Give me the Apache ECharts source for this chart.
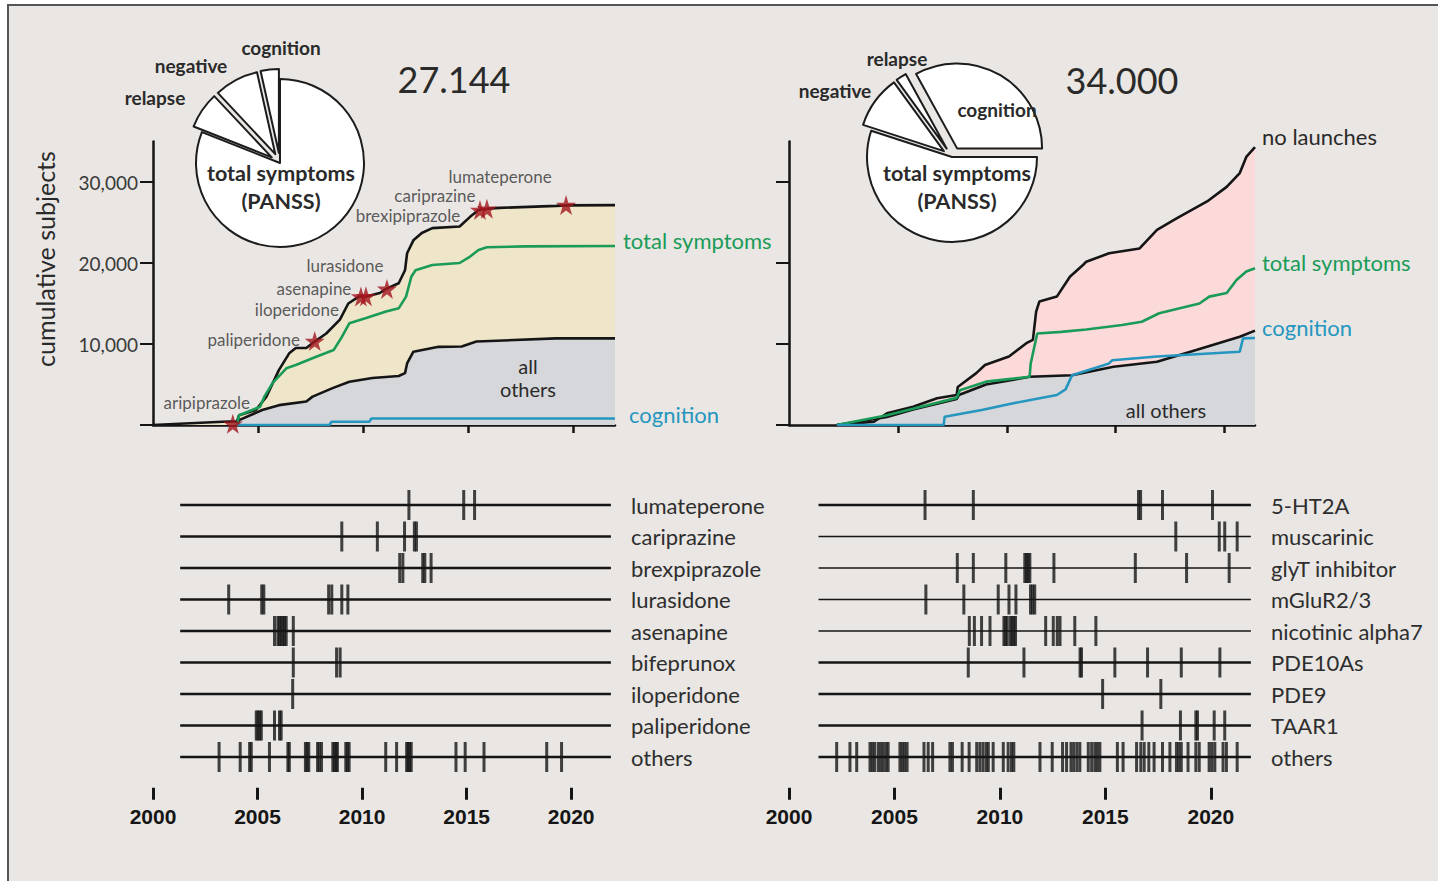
<!DOCTYPE html>
<html>
<head>
<meta charset="utf-8">
<script src="https://cdn.jsdelivr.net/npm/echarts@6/dist/echarts.min.js"></script>
<style>
  html, body { margin: 0; padding: 0; background: #fff; }
  #chart { width: 1438px; height: 881px; }
</style>
</head>
<body>
<div id="chart"></div>
<script>
// ---- data ----
// top left: approved drugs, cumulative subjects
let leftUpper = [[2000,0],[2003.3,400],[2004.0,450],[2004.1,1200],[2004.9,1850],[2005.4,3500],[2006.0,6800],[2006.5,8900],[2006.8,9500],[2007.3,9500],[2007.7,10300],[2008.25,11300],[2008.9,13000],[2009.3,15000],[2009.8,15850],[2010.2,15900],[2010.8,16300],[2011.1,16800],[2011.7,17500],[2012.0,19100],[2012.1,21200],[2012.4,22800],[2012.8,23700],[2013.3,24300],[2014.6,24500],[2015.1,25700],[2015.5,26550],[2015.9,26700],[2016.5,26800],[2019.2,27050],[2019.7,27120],[2022,27144]];
let leftTotal = [[2004.0,0],[2004.1,1200],[2005.1,2250],[2005.3,3500],[2005.7,5200],[2006.35,7000],[2006.8,7400],[2007.8,8450],[2008.6,9250],[2009.0,10900],[2009.35,12550],[2010.15,13200],[2011.1,14000],[2011.7,14400],[2012.05,15850],[2012.3,18300],[2012.5,19100],[2013.3,19750],[2014.6,20000],[2015.1,20800],[2015.5,21600],[2015.9,21950],[2017.75,22050],[2022,22100]];
let leftOthers = [[2004.0,0],[2004.1,600],[2005.2,1850],[2006.0,2450],[2007.3,2900],[2007.6,3500],[2008.55,4550],[2009.35,5350],[2010.45,5800],[2011.7,6050],[2012.0,6400],[2012.1,7600],[2012.4,9050],[2013.6,9650],[2014.7,9700],[2015.4,10300],[2019.2,10700],[2022,10700]];
let leftCognition = [[2004.0,0],[2008.4,0],[2008.5,400],[2010.3,400],[2010.4,800],[2022,800]];
// launches: name, year, cumulative subjects
let launches = [
  ['aripiprazole', 2003.8, 150],
  ['paliperidone', 2007.7, 10370],
  ['iloperidone', 2009.9, 15850],
  ['asenapine', 2010.14, 15900],
  ['lurasidone', 2011.14, 16800],
  ['brexipiprazole', 2015.57, 26550],
  ['cariprazine', 2015.9, 26700],
  ['lumateperone', 2019.67, 27150]
];

// top right: no launches
let rightUpper = [[2002.2,0],[2003.9,400],[2004.5,1450],[2005.7,2250],[2006.8,3300],[2007.7,3700],[2007.75,4700],[2008.6,6400],[2009.0,7400],[2010.1,8450],[2010.9,10100],[2011.2,10500],[2011.35,14000],[2011.5,15250],[2012.3,15850],[2012.9,18300],[2013.5,19750],[2013.65,20150],[2014.7,21200],[2016.1,21800],[2016.9,24100],[2017.8,25500],[2019.2,27600],[2020.1,29400],[2020.7,31100],[2021.0,33100],[2021.4,34300]];
let rightTotal = [[2002.2,0],[2004.5,1200],[2005.7,2000],[2007.7,3350],[2007.85,4300],[2009.05,5350],[2011.05,5950],[2011.1,7600],[2011.4,11300],[2012.5,11500],[2013.65,11800],[2015.3,12350],[2016.2,12750],[2017.0,13800],[2018.85,15000],[2019.3,15850],[2020.1,16300],[2020.55,17900],[2021.0,18950],[2021.4,19350]];
let rightOthers = [[2002.2,0],[2004.5,1000],[2005.7,1900],[2007.7,3200],[2007.8,3700],[2009.05,5000],[2011.05,5950],[2013.0,6150],[2014.9,7200],[2016.9,7800],[2018.7,9250],[2020.7,10900],[2021.4,11650]];
let rightCognition = [[2002.2,0],[2007.1,0],[2007.15,1030],[2008.85,1850],[2010.3,2680],[2012.3,3700],[2012.7,4400],[2013.0,6150],[2014.7,7600],[2014.85,8000],[2016.9,8450],[2020.7,9050],[2020.85,10700],[2021.4,10750]];

// pies (share of subjects by endpoint)
let leftPie = [['total symptoms', 81], ['relapse', 7], ['negative', 8.5], ['cognition', 3.5]];
let rightPie = [['total symptoms', 55], ['negative', 10], ['relapse', 2], ['cognition', 33]];

// bottom: trial start dates per row
let leftRows = ['lumateperone','cariprazine','brexpiprazole','lurasidone','asenapine','bifeprunox','iloperidone','paliperidone','others'];
let leftEvents = [
  [2012.24, 2014.86, 2015.38],
  [2009.03, 2010.73, 2012.03, 2012.5, 2012.6],
  [2011.8, 2011.95, 2012.9, 2013.0, 2013.3],
  [2003.62, 2005.2, 2005.3, 2008.4, 2008.55, 2009.03, 2009.32],
  [2005.81, 2005.97, 2006.05, 2006.13, 2006.21, 2006.29, 2006.37, 2006.71],
  [2006.71, 2008.78, 2008.95],
  [2006.68],
  [2004.94, 2005.02, 2005.1, 2005.18, 2005.81, 2006.05, 2006.13],
  [2003.16, 2004.17, 2004.62, 2004.7, 2005.57, 2006.45, 2006.52, 2007.29, 2007.37, 2007.45, 2007.87, 2007.95, 2008.06, 2008.6, 2008.68, 2008.76, 2008.82, 2009.22, 2009.3, 2009.38, 2011.13, 2011.65, 2012.13, 2012.2, 2012.27, 2012.35, 2014.49, 2014.93, 2015.83, 2018.83, 2019.54]
];
let rightRows = ['5-HT2A','muscarinic','glyT inhibitor','mGluR2/3','nicotinic alpha7','PDE10As','PDE9','TAAR1','others'];
let rightEvents = [
  [2006.45, 2008.74, 2016.57, 2016.67, 2017.71, 2020.08],
  [2018.34, 2020.4, 2020.66, 2021.25],
  [2007.98, 2008.74, 2010.28, 2011.18, 2011.26, 2011.34, 2011.42, 2012.56, 2016.42, 2018.85, 2020.87],
  [2006.49, 2008.29, 2009.92, 2010.43, 2010.76, 2011.45, 2011.55, 2011.65],
  [2008.55, 2008.79, 2009.13, 2009.53, 2010.19, 2010.27, 2010.35, 2010.5, 2010.58, 2010.66, 2010.74, 2012.17, 2012.53, 2012.72, 2012.85, 2013.55, 2014.55],
  [2008.5, 2011.14, 2013.8, 2013.87, 2015.45, 2017.0, 2018.6, 2020.43],
  [2014.87, 2017.63],
  [2016.74, 2018.56, 2019.29, 2019.37, 2020.16, 2020.66],
  [2002.26, 2002.89, 2003.21, 2003.84, 2003.95, 2004.06, 2004.23, 2004.35, 2004.47, 2004.6, 2004.7, 2005.26, 2005.37, 2005.48, 2005.6, 2006.4, 2006.6, 2006.81, 2007.63, 2007.75, 2008.21, 2008.54, 2008.9, 2009.05, 2009.2, 2009.35, 2009.45, 2009.68, 2010.16, 2010.39, 2010.55, 2010.66, 2011.9, 2012.48, 2012.97, 2013.16, 2013.37, 2013.5, 2013.65, 2013.79, 2014.19, 2014.35, 2014.5, 2014.62, 2014.74, 2015.57, 2015.84, 2016.48, 2016.68, 2016.84, 2017.06, 2017.31, 2017.71, 2018.06, 2018.37, 2018.48, 2018.6, 2018.92, 2019.29, 2019.45, 2019.92, 2020.05, 2020.19, 2020.58, 2020.74, 2021.25]
];
let rowStart = [2001.3, 2001.4];
let rowEnd = 2021.9;
let yearTicks = [2000, 2005, 2010, 2015, 2020];
let subjectTicks = [0, 10000, 20000, 30000];

// ---- style ----
const FONT = 'Lato, "Open Sans", sans-serif';
const INK = '#151515';
const GREEN = '#1a9b58';
const BLUE = '#2596bf';
const STAR = 'path://M50,0 L61,35 L98,35 L68,57 L79,91 L50,70 L21,91 L32,57 L2,35 L39,35 Z';
// label offsets for the launch stars (pixels)
const starLabelOffset = {
  aripiprazole: [-26, -21], paliperidone: [-61, -2], iloperidone: [-64, 13], asenapine: [-52, -8],
  lurasidone: [-42, -23], brexipiprazole: [-72, 6], cariprazine: [-52, -13], lumateperone: [-66, -29]
};
const thinRows = ['muscarinic', 'glyT inhibitor', 'mGluR2/3', 'nicotinic alpha7'];

let chart = echarts.init(document.getElementById('chart'), null, { renderer: 'svg' });

function topX(grid, max) {
  return {
    type: 'value', gridIndex: grid, min: 2000, max: max,
    axisLine: { lineStyle: { color: INK, width: 2.5 } },
    axisTick: { show: true, length: 8, customValues: [2005, 2010, 2015, 2020], lineStyle: { color: INK, width: 2.5 } },
    axisLabel: { show: false },
    splitLine: { show: false }
  };
}
function topY(grid, labels) {
  return {
    type: 'value', gridIndex: grid, min: 0, max: 35000,
    axisLine: { show: true, lineStyle: { color: INK, width: 2.5 } },
    axisTick: { show: true, length: 13, customValues: subjectTicks, lineStyle: { color: INK, width: 2 } },
    axisLabel: {
      show: labels, margin: 15, customValues: subjectTicks.slice(1),
      formatter: v => v.toLocaleString('en-US'),
      fontFamily: FONT, fontSize: 19, color: '#3a3a3a'
    },
    splitLine: { show: false }
  };
}
function bottomX(grid) {
  return {
    type: 'value', gridIndex: grid, min: 2000, max: 2022, offset: 15,
    axisLine: { lineStyle: { color: INK, width: 3 } },
    axisTick: { show: true, length: 12, customValues: yearTicks, lineStyle: { color: INK, width: 3 } },
    axisLabel: {
      customValues: yearTicks, margin: 18, formatter: v => String(v),
      fontFamily: '"Liberation Sans Narrow", "Liberation Sans", Arial, sans-serif',
      fontWeight: 'bold', fontSize: 21, color: INK
    },
    splitLine: { show: false }
  };
}
function bottomY(grid, rows) {
  return {
    type: 'category', gridIndex: grid, data: rows, inverse: true, position: 'right',
    axisLine: { show: false }, axisTick: { show: false },
    axisLabel: { margin: 18, fontFamily: FONT, fontSize: 22, color: '#2e2e2e', align: 'left' }
  };
}

function areaSeries(ax, data, color) {
  return {
    type: 'line', xAxisIndex: ax, yAxisIndex: ax, data: data, symbol: 'none', z: 1,
    lineStyle: { width: 0 }, areaStyle: { color: color, opacity: 1 }, silent: true
  };
}
function lineSeries(ax, name, data, color, label, offset, dist) {
  return {
    type: 'line', name: name, xAxisIndex: ax, yAxisIndex: ax, data: data, symbol: 'none', z: 3,
    lineStyle: { color: color, width: 2.6 },
    endLabel: label ? {
      show: true, formatter: name, color: color === INK ? '#2a2a2a' : color,
      fontFamily: FONT, fontSize: 22, offset: offset, distance: dist
    } : { show: false }
  };
}
function eventSeries(ax, rows, events, start) {
  let out = [];
  rows.forEach(r => {
    out.push({
      type: 'line', xAxisIndex: ax, yAxisIndex: ax, symbol: 'none', silent: true,
      data: [[start, r], [rowEnd, r]],
      lineStyle: { color: INK, width: thinRows.indexOf(r) >= 0 ? 1.3 : 2.6 }
    });
  });
  let pts = [];
  events.forEach((ev, i) => ev.forEach(y => pts.push([y, rows[i]])));
  out.push({
    type: 'scatter', xAxisIndex: ax, yAxisIndex: ax, data: pts, symbol: 'rect',
    symbolSize: [3, 30], itemStyle: { color: INK }, z: 4, silent: true
  });
  return out;
}
function pieSeries(data, center, radius, startAngle) {
  const st = { color: '#fff', borderColor: '#1c1c1c', borderWidth: 2 };
  return {
    type: 'pie', center: center, radius: radius, startAngle: startAngle, clockwise: true,
    selectedMode: 'multiple', selectedOffset: 10, z: 10, silent: true, animation: false,
    label: { show: false }, labelLine: { show: false },
    itemStyle: st, select: { itemStyle: st }, emphasis: { disabled: true },
    data: data.map((d, i) => ({ name: d[0], value: d[1], selected: i > 0 }))
  };
}

function txt(text, x, y, size, bold, rot) {
  return {
    type: 'text', silent: true, z: 20, x: x, y: y, rotation: rot || 0,
    style: {
      text: text, x: 0, y: 0, fill: '#2a2a2a',
      font: (bold ? 'bold ' : '') + size + 'px ' + FONT,
      textAlign: 'center', textVerticalAlign: 'middle'
    }
  };
}

let option = {
  backgroundColor: '#e9e6e3',
  animation: false,
  grid: [
    { left: 153, top: 141.5, width: 462, height: 283.5 },
    { left: 789, top: 141.5, width: 466, height: 283.5 },
    { left: 153, top: 489.25, width: 460, height: 283.5 },
    { left: 789, top: 489.25, width: 464, height: 283.5 }
  ],
  xAxis: [topX(0, 2022), topX(1, 2021.4), bottomX(2), bottomX(3)],
  yAxis: [topY(0, true), topY(1, false), bottomY(2, leftRows), bottomY(3, rightRows)],
  series: [
    areaSeries(0, leftUpper, '#efe5c8'),
    areaSeries(0, leftOthers, '#d6d7db'),
    lineSeries(0, 'launched', leftUpper, INK, false),
    lineSeries(0, 'all others', leftOthers, INK, false),
    lineSeries(0, 'total symptoms', leftTotal, GREEN, true, [0, -5], 8),
    lineSeries(0, 'cognition', leftCognition, BLUE, true, [0, -4], 14),
    {
      type: 'scatter', xAxisIndex: 0, yAxisIndex: 0, symbol: STAR, symbolSize: 20, z: 6,
      itemStyle: { color: '#a3151e' },
      data: launches.map(d => ({
        name: d[0], value: [d[1], d[2]],
        label: {
          show: true, formatter: '{b}', position: 'inside', offset: starLabelOffset[d[0]],
          fontFamily: FONT, fontSize: 17, color: '#333'
        }
      }))
    },
    areaSeries(1, rightUpper, '#fcdada'),
    areaSeries(1, rightOthers, '#d6d7db'),
    lineSeries(1, 'no launches', rightUpper, INK, true, [0, -11], 7),
    lineSeries(1, 'all others', rightOthers, INK, false),
    lineSeries(1, 'total symptoms', rightTotal, GREEN, true, [0, -6], 7),
    lineSeries(1, 'cognition', rightCognition, BLUE, true, [0, -10], 7),
    pieSeries(leftPie, [280, 163], 84, 90),
    pieSeries(rightPie, [952, 157], 85, 0)
  ]
    .concat(eventSeries(2, leftRows, leftEvents, rowStart[0]))
    .concat(eventSeries(3, rightRows, rightEvents, rowStart[1])),
  graphic: [
    { type: 'rect', silent: true, z: 30, shape: { x: 0, y: 0, width: 1438, height: 4 }, style: { fill: '#fff' } },
    { type: 'rect', silent: true, z: 30, shape: { x: 0, y: 0, width: 7, height: 881 }, style: { fill: '#fff' } },
    { type: 'line', silent: true, z: 31, shape: { x1: 7, y1: 5, x2: 1438, y2: 5 }, style: { stroke: '#555', lineWidth: 2 } },
    { type: 'line', silent: true, z: 31, shape: { x1: 8, y1: 5, x2: 8, y2: 881 }, style: { stroke: '#555', lineWidth: 2 } },
    txt('cumulative subjects', 45, 259, 25, false, Math.PI / 2),
    txt('27.144', 454, 79, 36),
    txt('34.000', 1122, 80, 36),
    txt('all', 528, 366, 20),
    txt('others', 528, 389, 20),
    txt('all others', 1166, 410, 20),
    txt('cognition', 281, 47, 19, true),
    txt('negative', 191, 65, 19, true),
    txt('relapse', 155, 97, 19, true),
    txt('total symptoms', 281, 173, 21.5, true),
    txt('(PANSS)', 281, 201, 21.5, true),
    txt('relapse', 897, 58, 19, true),
    txt('negative', 835, 90, 19, true),
    txt('cognition', 997, 109, 19, true),
    txt('total symptoms', 957, 173, 21.5, true),
    txt('(PANSS)', 957, 201, 21.5, true)
  ]
};
chart.setOption(option);
</script>
</body>
</html>
